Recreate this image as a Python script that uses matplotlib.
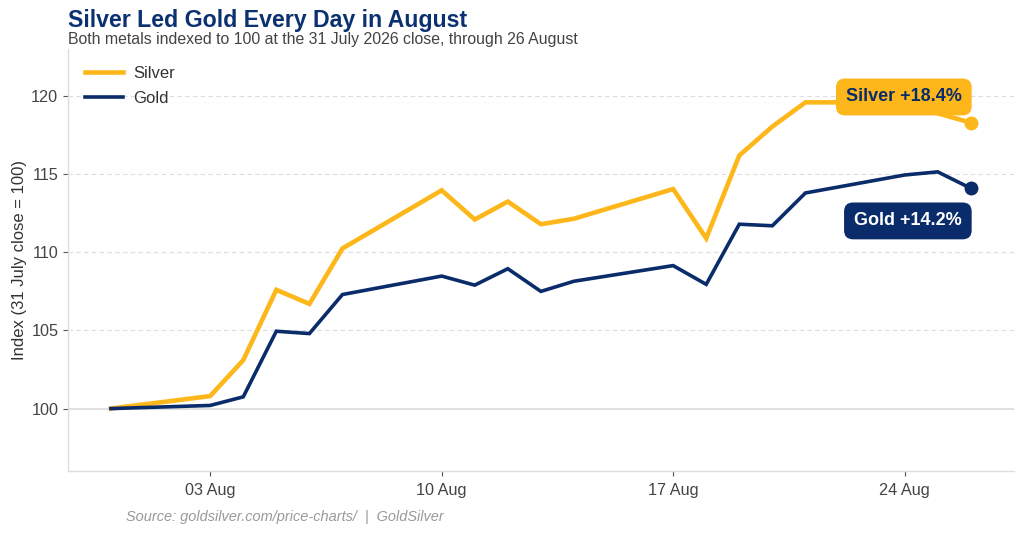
import matplotlib
matplotlib.use("Agg")
import matplotlib.pyplot as plt
import matplotlib.dates as mdates
import pandas as pd

plt.rcParams['font.family'] = ['Liberation Sans', 'DejaVu Sans']

dates = ["2026-07-31", "2026-08-03", "2026-08-04", "2026-08-05", "2026-08-06", "2026-08-07",
         "2026-08-10", "2026-08-11", "2026-08-12", "2026-08-13", "2026-08-14",
         "2026-08-17", "2026-08-18", "2026-08-19", "2026-08-20", "2026-08-21",
         "2026-08-24", "2026-08-25", "2026-08-26"]
silver = [100.0, 100.8, 103.1, 107.6, 106.7, 110.25,
          113.97, 112.1, 113.25, 111.8, 112.15,
          114.05, 110.9, 116.2, 118.05, 119.6,
          119.6, 118.9, 118.3]
gold = [100.0, 100.2, 100.75, 104.95, 104.8, 107.3,
        108.48, 107.9, 108.95, 107.5, 108.15,
        109.15, 107.95, 111.8, 111.7, 113.8,
        114.95, 115.15, 114.1]
silver_label = "Silver +18.4%"
gold_label = "Gold +14.2%"

SILVER_C = "#FDB71A"
GOLD_C = "#0A2C6A"
TITLE_C = "#0B3170"

x = pd.to_datetime(dates)

fig = plt.figure(figsize=(10.24, 5.35), dpi=100)
ax = fig.add_axes([0.0664, 0.1195, 0.9236, 0.7885])

ax.plot(x, silver, color=SILVER_C, lw=3.3, label="Silver", zorder=3, solid_joinstyle='miter')
ax.plot(x, gold, color=GOLD_C, lw=2.6, label="Gold", zorder=3, solid_joinstyle='miter')
ax.plot(x[-1], silver[-1], 'o', color=SILVER_C, ms=9, zorder=4)
ax.plot(x[-1], gold[-1], 'o', color=GOLD_C, ms=9, zorder=4)

ax.set_ylim(96, 123)
ax.set_yticks([100, 105, 110, 115, 120])
ax.grid(axis='y', color='#dddddd', ls=(0, (4, 3)), lw=0.8, zorder=0)
ax.axhline(100, color='#dddddd', lw=1.2, zorder=1)
ax.xaxis.set_major_locator(mdates.WeekdayLocator(byweekday=mdates.MO))
ax.xaxis.set_major_formatter(mdates.DateFormatter('%d %b'))
for s in ['top', 'right']:
    ax.spines[s].set_visible(False)
for s in ['left', 'bottom']:
    ax.spines[s].set_color('#dddddd')
    ax.spines[s].set_linewidth(1.0)
ax.tick_params(axis='both', colors='#555555', labelcolor='#444444', labelsize=11.7,
               length=3.5, width=0.8)
ax.tick_params(axis='x', pad=5)
ax.set_ylabel("Index (31 July close = 100)", fontsize=12, color='#333333', labelpad=3)

leg = ax.legend(loc='upper left', frameon=False, fontsize=12, handlelength=2.3,
                borderaxespad=0.6, labelspacing=0.62, handletextpad=0.6)
for t in leg.get_texts():
    t.set_color('#333333')

ax.annotate(silver_label, xy=(x[-1], silver[-1]), xytext=(-6.5, 18.5),
            textcoords='offset points', ha='right', va='center',
            fontsize=13, fontweight='bold', color=GOLD_C, zorder=6,
            bbox=dict(boxstyle='round,pad=0.55,rounding_size=0.5', fc=SILVER_C, ec='none'))
ax.annotate(gold_label, xy=(x[-1], gold[-1]), xytext=(-6.5, -23.5),
            textcoords='offset points', ha='right', va='center',
            fontsize=13, fontweight='bold', color='white', zorder=6,
            bbox=dict(boxstyle='round,pad=0.55,rounding_size=0.5', fc=GOLD_C, ec='none'))

fig.text(0.0664, 0.983, "Silver Led Gold Every Day in August", fontsize=16.7,
         fontweight='bold', color=TITLE_C, ha='left', va='top')
fig.text(0.0664, 0.927, "Both metals indexed to 100 at the 31 July 2026 close, through 26 August",
         fontsize=11.4, color='#444444', ha='left', va='center')
fig.text(0.123, 0.033, "Source: goldsilver.com/price-charts/  |  GoldSilver", fontsize=10.45,
         style='italic', color='#999999', ha='left', va='center')

fig.savefig("out.png", dpi=100)
